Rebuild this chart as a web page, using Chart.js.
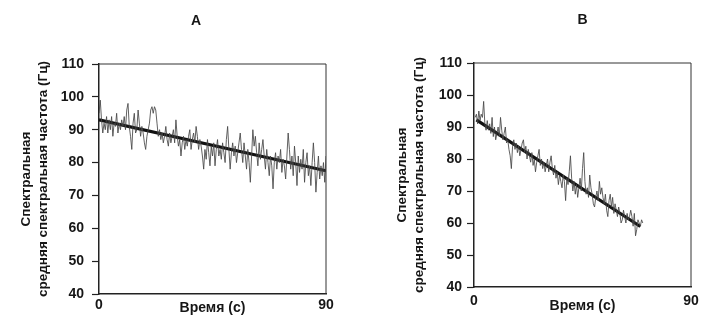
<!DOCTYPE html>
<html>
<head>
<meta charset="utf-8">
<script src="https://cdn.jsdelivr.net/npm/chart.js@4.4.1/dist/chart.umd.min.js"></script>
<style>
  html, body { margin: 0; padding: 0; background: #fff; overflow: hidden; }
  body { position: relative; width: 723px; height: 324px; }
  canvas { position: absolute; top: 0; }
  #chartA { left: 0; }
  #chartB { left: 361px; }
</style>
</head>
<body>
<canvas id="chartA" width="392" height="324"></canvas>
<canvas id="chartB" width="362" height="324"></canvas>
<script>
// шаг записи, с
const timeStep = 0.5;

// A : 0 .. 90 c
const startA = 0;
const valuesA = [
  95, 99, 93, 89, 92, 90, 94, 89, 93, 90,
  94, 88, 92, 91, 95, 89, 92, 90, 93, 91,
  94, 90, 96, 98, 91, 88, 84, 92, 95, 89,
  90, 96, 92, 88, 91, 89, 86, 84, 88, 90,
  92, 96, 97, 95, 97, 96, 92, 88, 90, 87,
  89, 86, 88, 91, 87, 85, 89, 86, 88, 90,
  86, 93, 88, 85, 87, 82, 86, 88, 84, 87,
  85, 88, 90, 84, 87, 89, 86, 91, 88, 84,
  87, 85, 82, 78, 84, 81, 87, 83, 79, 85,
  82, 86, 79, 84, 87, 82, 84, 81, 86, 83,
  80, 87, 91, 84, 78, 83, 86, 82, 85, 80,
  83, 86, 89, 84, 80, 86, 82, 78, 84, 80,
  74, 82, 90, 85, 88, 83, 79, 86, 81, 84,
  87, 82, 78, 84, 80, 76, 82, 79, 72, 80,
  83, 78, 82, 80, 84, 77, 81, 79, 75, 82,
  89, 84, 78, 82, 76, 85, 80, 73, 82, 77,
  81, 78, 84, 74, 80, 83, 76, 79, 73, 80,
  86, 80, 71, 77, 82, 75, 79, 76, 80, 74,
  82
];
const trendTimesA = [0, 90];
const trendValuesA = [93, 77.5];

// B : 0.5 .. 70 c
const startB = 0.5;
const valuesB = [
  93, 94, 91, 95, 92, 94, 93, 98, 91, 89,
  92, 89, 91, 88, 93, 87, 90, 86, 88, 90,
  87, 93, 89, 86, 88, 90, 85, 86, 83, 81,
  77, 84, 86, 83, 85, 82, 84, 81, 83, 85,
  86, 82, 84, 80, 83, 81, 79, 82, 78, 80,
  76, 79, 81, 83, 78, 80, 77, 79, 76, 78,
  80, 76, 79, 81, 77, 75, 78, 74, 76, 72,
  75, 73, 71, 75, 73, 67, 74, 72, 76, 81,
  74, 70, 73, 69, 72, 68, 71, 74, 70, 77,
  82, 73, 69, 71, 68, 75, 71, 69, 66, 65,
  68, 70, 67, 73, 69, 71, 68, 66, 69, 64,
  62, 67, 69, 65, 68, 63, 66, 64, 62, 65,
  63, 60, 61, 64, 62, 60, 63, 61, 62, 64,
  62, 59, 63, 56, 58, 61, 60, 59, 61, 60
];
const trendTimesB = [1, 69];
const trendValuesB = [92.2, 58.9];

const xTicks = [0, 90];
const yMin = 40, yMax = 110, yStep = 10;

const yTitle = ["Спектральная", "средняя спектральная частота (Гц)"];
const xTitle = "Время (с)";

const FONT = "'Liberation Sans', Arial, sans-serif";
const INK = "#161616";

// рамка сверху и справа
const frame = {
    id: "frame",
    afterDraw(chart) {
        const { ctx, chartArea: a } = chart;
        ctx.save();
        ctx.strokeStyle = "#333";
        ctx.lineWidth = 1;
        ctx.beginPath();
        ctx.moveTo(a.left, a.top);
        ctx.lineTo(a.right, a.top);
        ctx.lineTo(a.right, a.bottom);
        ctx.stroke();
        ctx.restore();
    }
};

function toPoints(start, values) {
    return values.map((v, i) => ({ x: start + i * timeStep, y: v }));
}

function makePanel(id, p) {
    new Chart(document.getElementById(id), {
        type: "line",
        data: {
            datasets: [
                {
                    data: toPoints(p.start, p.values),
                    borderColor: "rgba(70,70,70,0.85)",
                    borderWidth: 1,
                    pointRadius: 0,
                    tension: 0
                },
                {
                    data: p.trendTimes.map((t, i) => ({ x: t, y: p.trendValues[i] })),
                    borderColor: "#111",
                    borderWidth: 3.2,
                    pointRadius: 0
                }
            ]
        },
        options: {
            responsive: false,
            animation: false,
            events: [],
            layout: { padding: 0 },
            plugins: {
                legend: { display: false },
                tooltip: { enabled: false },
                title: {
                    display: true,
                    text: p.title,
                    fullSize: p.titleFull,
                    color: INK,
                    font: { family: FONT, size: 14, weight: "bold", lineHeight: 1.2 },
                    padding: { top: p.titleTop, bottom: p.titleBottom }
                }
            },
            scales: {
                x: {
                    type: "linear",
                    min: 0,
                    max: 90,
                    afterBuildTicks: s => { s.ticks = xTicks.map(v => ({ value: v })); },
                    afterFit: s => { s.height = p.xHeight; },
                    grid: { drawOnChartArea: false, drawTicks: false },
                    border: { color: "#222", width: 1.5 },
                    ticks: {
                        color: INK,
                        padding: p.xTickPad,
                        font: { family: FONT, size: 14, weight: "bold" }
                    },
                    title: {
                        display: true,
                        text: xTitle,
                        color: INK,
                        font: { family: FONT, size: 14, weight: "bold" },
                        padding: { top: 0, bottom: p.xTitleBottom }
                    }
                },
                y: {
                    min: yMin,
                    max: yMax,
                    afterFit: s => { s.width = p.yWidth; },
                    grid: { drawOnChartArea: false, tickLength: 7, color: "#222", tickWidth: 1.2 },
                    border: { color: "#222", width: 1.5 },
                    ticks: {
                        stepSize: yStep,
                        color: INK,
                        padding: p.yTickPad,
                        font: { family: FONT, size: 14, weight: "bold" }
                    },
                    title: {
                        display: true,
                        text: yTitle,
                        color: INK,
                        font: { family: FONT, size: 13.5, weight: "bold", lineHeight: 1.25 },
                        padding: { top: p.yTitleTop, bottom: 0 }
                    }
                },
                // пустое поле справа от графика
                yRight: {
                    position: "right",
                    display: true,
                    min: yMin,
                    max: yMax,
                    afterFit: s => { s.width = p.padRight; },
                    grid: { display: false },
                    border: { display: false },
                    ticks: { display: false }
                }
            }
        },
        plugins: [frame]
    });
}

makePanel("chartA", {
    title: "A", titleFull: true, titleTop: 12.6, titleBottom: 34.6,
    start: startA, values: valuesA,
    trendTimes: trendTimesA, trendValues: trendValuesA,
    padRight: 66, xHeight: 30, yWidth: 99,
    xTickPad: 3, xTitleBottom: 7.6, yTickPad: 8, yTitleTop: 17.6
});

makePanel("chartB", {
    title: "B", titleFull: false, titleTop: 11.6, titleBottom: 34.6,
    start: startB, values: valuesB,
    trendTimes: trendTimesB, trendValues: trendValuesB,
    padRight: 32, xHeight: 37, yWidth: 113,
    xTickPad: 6, xTitleBottom: 9.6, yTickPad: 5, yTitleTop: 32.6
});
</script>
</body>
</html>
